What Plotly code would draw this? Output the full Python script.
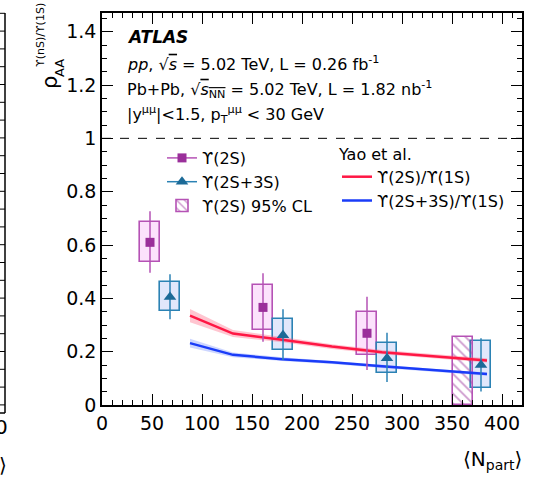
import plotly.graph_objects as go

# ---------------- data ----------------
x_2s = [48, 161, 265]
y_2s = [0.610, 0.366, 0.269]
stat_up_2s = [0.117, 0.128, 0.137]
stat_dn_2s = [0.114, 0.129, 0.138]
sys_up_2s = [0.077, 0.084, 0.079]
sys_dn_2s = [0.075, 0.085, 0.081]

x_23s = [68, 181, 285, 379]
y_23s = [0.405, 0.262, 0.175, 0.150]
stat_up_23s = [0.085, 0.097, 0.096, 0.100]
stat_dn_23s = [0.083, 0.093, 0.089, 0.099]
sys_up_23s = [0.057, 0.060, 0.059, 0.091]
sys_dn_23s = [0.053, 0.056, 0.054, 0.088]

cl_x = [360.5]
cl_upper = [0.254]

yao_x = [88, 131, 180, 230, 280, 330, 385]
yao_2s = [0.335, 0.268, 0.245, 0.219, 0.198, 0.182, 0.167]
yao_2s_err = [0.025, 0.013, 0.010, 0.009, 0.008, 0.008, 0.008]
yao_23s = [0.232, 0.188, 0.172, 0.160, 0.145, 0.130, 0.116]
yao_23s_err = [0.016, 0.009, 0.007, 0.006, 0.006, 0.006, 0.006]

# ---------------- style ----------------
FONT = "DejaVu Sans"
PURPLE = "#9a2f9a"
PURPLE_BOX = "#b552b5"
BLUE = "#1c6a97"
BLUE_BOX = "#2b82b4"
RED_TH = "#ff1744"
BLUE_TH = "#1a3cf8"
W, H = 536, 478
L, R, T, B = 102, 14, 13, 73
PW, PH = W - L - R, H - T - B


def px(xp):
    return (xp - L) / PW


def py(yp):
    return (H - B - yp) / PH


fig = go.Figure()

# theory bands
for yv, ev, col, fillc in [(yao_2s, yao_2s_err, RED_TH, "rgba(255,90,120,0.35)"),
                           (yao_23s, yao_23s_err, BLUE_TH, "rgba(90,120,255,0.30)")]:
    up = [a + b for a, b in zip(yv, ev)]
    dn = [a - b for a, b in zip(yv, ev)]
    fig.add_trace(go.Scatter(x=yao_x + yao_x[::-1], y=up + dn[::-1], fill="toself",
                             fillcolor=fillc, line=dict(width=0), mode="lines",
                             showlegend=False, hoverinfo="skip"))

fig.add_trace(go.Scatter(x=yao_x, y=yao_2s, mode="lines", line=dict(color=RED_TH, width=2.5),
                         name="ϒ(2S)/ϒ(1S)", legend="legend2"))
fig.add_trace(go.Scatter(x=yao_x, y=yao_23s, mode="lines", line=dict(color=BLUE_TH, width=2.5),
                         name="ϒ(2S+3S)/ϒ(1S)", legend="legend2"))

# systematic boxes
fig.add_trace(go.Bar(x=x_2s, base=[y - d for y, d in zip(y_2s, sys_dn_2s)],
                     y=[u + d for u, d in zip(sys_up_2s, sys_dn_2s)], width=20.5,
                     marker=dict(color="rgba(248,190,248,0.45)", line=dict(color=PURPLE_BOX, width=1.6)),
                     showlegend=False, hoverinfo="skip"))
fig.add_trace(go.Bar(x=x_23s, base=[y - d for y, d in zip(y_23s, sys_dn_23s)],
                     y=[u + d for u, d in zip(sys_up_23s, sys_dn_23s)], width=20,
                     marker=dict(color="rgba(180,195,245,0.40)", line=dict(color=BLUE_BOX, width=1.6)),
                     showlegend=False, hoverinfo="skip"))

# 95% CL hatched
fig.add_trace(go.Bar(x=cl_x, y=cl_upper, base=[0], width=20,
                     marker=dict(color="rgba(0,0,0,0)", line=dict(color=PURPLE_BOX, width=1.6),
                                 pattern=dict(shape="\\", fgcolor=PURPLE, bgcolor="rgba(0,0,0,0)",
                                              size=7, solidity=0.25)),
                     name="ϒ(2S) 95% CL", legendrank=3))

# points with stat errors
fig.add_trace(go.Scatter(x=x_2s, y=y_2s, mode="markers",
                         marker=dict(symbol="square", size=9, color=PURPLE),
                         error_y=dict(type="data", array=stat_up_2s, arrayminus=stat_dn_2s,
                                      width=0, thickness=1.5, color=PURPLE_BOX),
                         showlegend=False))
fig.add_trace(go.Scatter(x=x_23s, y=y_23s, mode="markers",
                         marker=dict(symbol="triangle-up", size=11, color=BLUE),
                         error_y=dict(type="data", array=stat_up_23s, arrayminus=stat_dn_23s,
                                      width=0, thickness=1.5, color=BLUE_BOX),
                         showlegend=False))

# legend proxies
fig.add_trace(go.Scatter(x=[None], y=[None], mode="lines+markers", name="ϒ(2S)",
                         marker=dict(symbol="square", size=9, color=PURPLE),
                         line=dict(color=PURPLE_BOX, width=1.5), legendrank=1))
fig.add_trace(go.Scatter(x=[None], y=[None], mode="lines+markers", name="ϒ(2S+3S)",
                         marker=dict(symbol="triangle-up", size=11, color=BLUE),
                         line=dict(color=BLUE_BOX, width=1.5), legendrank=2))

# dashed unity line
fig.add_shape(type="line", xref="paper", x0=0, x1=1, yref="y", y0=1, y1=1,
              line=dict(color="black", width=1, dash="dash"))

axis_common = dict(showline=True, linecolor="black", linewidth=1.5, mirror="allticks",
                   ticks="inside", ticklen=11, tickwidth=1, tickcolor="black",
                   showgrid=False, zeroline=False,
                   tickfont=dict(family=FONT, size=19, color="black"))
fig.update_xaxes(range=[0, 420], dtick=50, tick0=0,
                 minor=dict(ticks="inside", ticklen=5.5, dtick=10, tick0=0, tickcolor="black", showgrid=False),
                 **axis_common)
fig.update_yaxes(range=[0, 1.47], dtick=0.2, tick0=0,
                 minor=dict(ticks="inside", ticklen=5.5, dtick=0.05, tick0=0, tickcolor="black", showgrid=False),
                 **axis_common)

ann = []
# ATLAS block
ann.append(dict(text="<b><i>ATLAS</i></b>", x=px(125), y=py(37), font=dict(size=17)))
ann.append(dict(text="<i>pp</i>, √<span style='text-decoration:overline'><i>s</i></span> = 5.02 TeV, L = 0.26 fb<sup>-1</sup>",
                x=px(125), y=py(64), font=dict(size=16)))
ann.append(dict(text="Pb+Pb, √<span style='text-decoration:overline'><i>s</i><sub>NN</sub></span> = 5.02 TeV, L = 1.82 nb<sup>-1</sup>",
                x=px(125), y=py(89), font=dict(size=16)))
ann.append(dict(text="|y<sup>μμ</sup>|&lt;1.5, p<sub>T</sub><sup>μμ</sup> &lt; 30 GeV",
                x=px(125), y=py(114), font=dict(size=16)))
for a in ann:
    a.update(xref="paper", yref="paper", xanchor="left", yanchor="middle", showarrow=False)
    a["font"].update(family=FONT, color="black")

extra = [
    dict(text="ρ", x=px(50), y=py(83), font=dict(size=21), textangle=-90),
    dict(text="AA", x=px(60), y=py(68), font=dict(size=13), textangle=-90),
    dict(text="ϒ(nS)/ϒ(1S)", x=px(40), y=py(35), font=dict(size=11), textangle=-90),
    dict(text="⟨N<sub>part</sub>⟩", x=px(524), y=py(460), font=dict(size=20), xanchor="right"),
    dict(text="0", x=px(1), y=py(427), font=dict(size=20)),
    dict(text="⟩", x=px(3), y=py(465), font=dict(size=20)),
]
for a in extra:
    a.setdefault("xanchor", "center")
    a.update(xref="paper", yref="paper", yanchor="middle", showarrow=False)
    a["font"].update(family=FONT, color="black")
ann += extra

# neighbouring panel edge (cropped)
shapes = [dict(type="line", xref="paper", yref="paper", x0=px(5), x1=px(5), y0=py(13), y1=py(413),
               line=dict(color="black", width=1.5)),
          dict(type="line", xref="paper", yref="paper", x0=px(0), x1=px(5), y0=py(413), y1=py(413),
               line=dict(color="black", width=1.5))]
k = 0
while 13.3 + k * 17.8 < 410:
    yy = 13.3 + k * 17.8
    shapes.append(dict(type="line", xref="paper", yref="paper", x0=px(0), x1=px(5), y0=py(yy), y1=py(yy),
                       line=dict(color="black", width=1)))
    k += 1
for s in shapes:
    fig.add_shape(**s)

fig.update_layout(
    width=W, height=H, margin=dict(l=L, r=R, t=T, b=B),
    paper_bgcolor="white", plot_bgcolor="white", barmode="overlay",
    font=dict(family=FONT, color="black"),
    annotations=ann,
    legend=dict(x=px(162), y=py(141), xanchor="left", yanchor="top", bgcolor="rgba(0,0,0,0)",
                font=dict(family=FONT, size=16), itemwidth=30, tracegroupgap=0, traceorder="normal"),
    legend2=dict(x=px(337), y=py(139), xanchor="left", yanchor="top", bgcolor="rgba(0,0,0,0)",
                 font=dict(family=FONT, size=16), itemwidth=30,
                 title=dict(text="Yao et al.", font=dict(family=FONT, size=16))),
    bargap=0,
)

fig.write_html("out.html", config={"displayModeBar": False},
               post_script="document.body.style.margin='0';document.body.style.padding='0';"
                           "document.documentElement.style.overflow='hidden';")
